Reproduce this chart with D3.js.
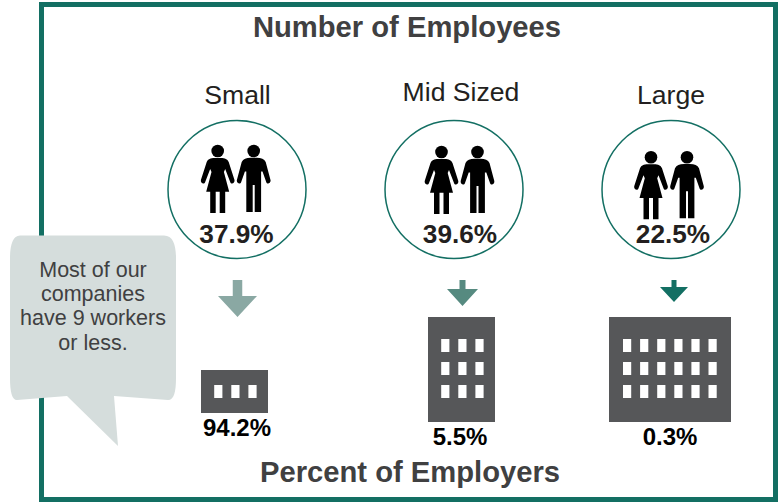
<!DOCTYPE html>
<html><head><meta charset="utf-8">
<script src="https://cdn.jsdelivr.net/npm/d3@7"></script>
<style>html,body{margin:0;padding:0;background:#fff;overflow:hidden}svg{display:block}text{font-family:"Liberation Sans",Arial,sans-serif}</style>
</head><body><svg id="c" width="783" height="502"></svg>
<script>
const categories = ["Small", "Mid Sized", "Large"];
const employeeShare = [37.9, 39.6, 22.5];
const employerShare = [94.2, 5.5, 0.3];
const windowRows = [1, 3, 3];
const windowCols = [3, 3, 6];
const noteLines = ["Most of our", "companies", "have 9 workers", "or less."];
const topTitle = "Number of Employees";
const bottomTitle = "Percent of Employers";

const green = "#136f63", grey = "#565759", ink = "#404041", dark = "#231f20";
const svg = d3.select("#c");

const cx = d3.scalePoint().domain(categories).range([237, 671]);
const arrowX = d3.scaleOrdinal(categories, [237.5, 462.5, 674]);
const labelX = d3.scaleOrdinal(categories, [237.5, 461, 671]);
const labelY = d3.scaleOrdinal(categories, [104, 100.7, 104]);
const figY = d3.scaleOrdinal(categories, [151, 152, 157.3]);
const figDx = d3.scaleOrdinal(categories, [0, 6.8, -0.7]);
const pctX = d3.scaleOrdinal(categories, [236.5, 460, 673]);
const bLeft = d3.scaleOrdinal(categories, [201, 428, 609]);
const bWidth = d3.scaleOrdinal(categories, [67, 67, 122]);
const bPad = d3.scaleOrdinal(categories, [13.2, 13.2, 14]);
const bTop = d3.scaleOrdinal(categories, [370, 317, 317]);
const bBottom = d3.scaleOrdinal(categories, [413, 422, 422]);
const bLabelY = d3.scaleOrdinal(categories, [436, 445, 445]);
const bLabelX = d3.scaleOrdinal(categories, [237, 460, 670]);

// arrow size encodes employer share
const aH = d3.scaleLinear().domain([0.3, 5.5, 94.2]).range([22, 26, 37]);
const aW = d3.scaleLinear().domain([0.3, 5.5, 94.2]).range([28, 31, 39]);
const aS = d3.scaleLinear().domain([0.3, 5.5, 94.2]).range([5, 6, 9.5]);
const aN = d3.scaleLinear().domain([0.3, 5.5, 94.2]).range([7, 9, 16]);
const arrowCol = d3.scaleOrdinal(categories, [ "#8aa8a3", "#568a80", green ]);

const line = d3.line();

// frame
svg.append("rect").attr("x", 41.5).attr("y", 4.5).attr("width", 734).attr("height", 495)
  .attr("fill", "none").attr("stroke", green).attr("stroke-width", 5);

// titles
svg.append("text").attr("x", 407).attr("y", 37).attr("text-anchor", "middle")
  .attr("font-size", 29.2).attr("font-weight", "bold").attr("fill", ink).text(topTitle);
svg.append("text").attr("x", 410).attr("y", 482).attr("text-anchor", "middle")
  .attr("font-size", 29.2).attr("font-weight", "bold").attr("fill", ink).text(bottomTitle);

// icons in local coordinates, origin at head centre
const manBody = "M-3,6.8 L3,6.8 C7.5,7 10.5,8 12,11 L16.8,29 C17.5,32 13.5,34 12.5,31 L8.8,20.5 L7.4,20.5 L7.4,61 L1,61 L1,34 L-1,34 L-1,61 L-7.4,61 L-7.4,20.5 L-8.8,20.5 L-12.5,31 C-13.5,34 -17.5,32 -16.8,29 L-12,11 C-10.5,8 -7.5,7 -3,6.8 Z";
const womanBody = "M-3,7 L3,7 C7.5,7 9.5,8 11,11 L16.8,29 C17.5,32 13.5,34 12.5,31 L7.5,18 L6.2,21 L11.5,40.7 L7.5,40.7 L7.5,62 L2,62 L2,40.7 L-2,40.7 L-2,62 L-7.5,62 L-7.5,40.7 L-11.5,40.7 L-6.2,21 L-7.5,18 L-12.5,31 C-13.5,34 -17.5,32 -16.8,29 L-11,11 C-9.5,8 -7.5,7 -3,7 Z";

const groups = svg.selectAll("g.col").data(categories).join("g").attr("class", "col");

groups.append("text").attr("x", d => labelX(d)).attr("y", d => labelY(d)).attr("text-anchor", "middle")
  .attr("font-size", 26.6).attr("fill", dark).text(d => d);

groups.append("circle").attr("cx", d => cx(d)).attr("cy", 189.5).attr("r", 69)
  .attr("fill", "#fff").attr("stroke", green).attr("stroke-width", 1.5);

groups.each(function(d) {
  const g = d3.select(this);
  const x0 = cx(d) + figDx(d), y0 = figY(d);
  [[-19.3, womanBody], [16.7, manBody]].forEach(([dx, body]) => {
    const p = g.append("g").attr("transform", `translate(${x0 + dx},${y0})`);
    p.append("circle").attr("r", 6.3).attr("fill", "#000");
    p.append("path").attr("d", body).attr("fill", "#000");
  });
});

groups.append("text").attr("x", d => pctX(d)).attr("y", 243).attr("text-anchor", "middle")
  .attr("font-size", 26.2).attr("font-weight", "bold").attr("fill", dark)
  .text((d, i) => employeeShare[i].toFixed(1) + "%");

// arrows
groups.append("path").attr("fill", d => arrowCol(d)).attr("d", (d, i) => {
  const v = employerShare[i], x = arrowX(d), top = 280, h = aH(v), w = aW(v) / 2, s = aS(v) / 2, n = aN(v);
  return line([[x - s, top], [x + s, top], [x + s, top + n], [x + w, top + n], [x, top + h], [x - w, top + n], [x - s, top + n]]) + "Z";
});

// buildings
const winW = 8.2, winH = 13, gapX = 17.1, gapY = 23, padY = 22;
groups.append("rect").attr("x", d => bLeft(d)).attr("y", d => bTop(d))
  .attr("width", d => bWidth(d))
  .attr("height", d => bBottom(d) - bTop(d)).attr("fill", grey);
groups.each(function(d, i) {
  const cells = d3.cross(d3.range(windowRows[i]), d3.range(windowCols[i]));
  d3.select(this).selectAll("rect.w").data(cells).join("rect").attr("class", "w")
    .attr("x", c => bLeft(d) + bPad(d) + c[1] * gapX)
    .attr("y", c => bTop(d) + (windowRows[i] === 1 ? 15 : padY) + c[0] * gapY)
    .attr("width", winW).attr("height", winH).attr("fill", "#fff");
});

groups.append("text").attr("x", d => bLabelX(d)).attr("y", d => bLabelY(d)).attr("text-anchor", "middle")
  .attr("font-size", 24).attr("font-weight", "bold").attr("fill", "#000")
  .text((d, i) => employerShare[i].toFixed(1) + "%");

// callout
svg.append("path").attr("fill", "#d5dddc")
  .attr("d", "M20,235.5 L164,235.5 C173,235.5 176,245 176,258 L176,378 C176,392 174,400 168,400 L114,396 L118,446 L67,396 L17,400 C12,400 10,392 10,378 L10,258 C10,245 13,235.5 20,235.5 Z");
svg.append("g").selectAll("text").data(noteLines).join("text")
  .attr("x", 93).attr("y", (d, i) => 277 + i * 24.2).attr("text-anchor", "middle")
  .attr("font-size", 21.5).attr("fill", ink).text(d => d);
</script></body></html>
